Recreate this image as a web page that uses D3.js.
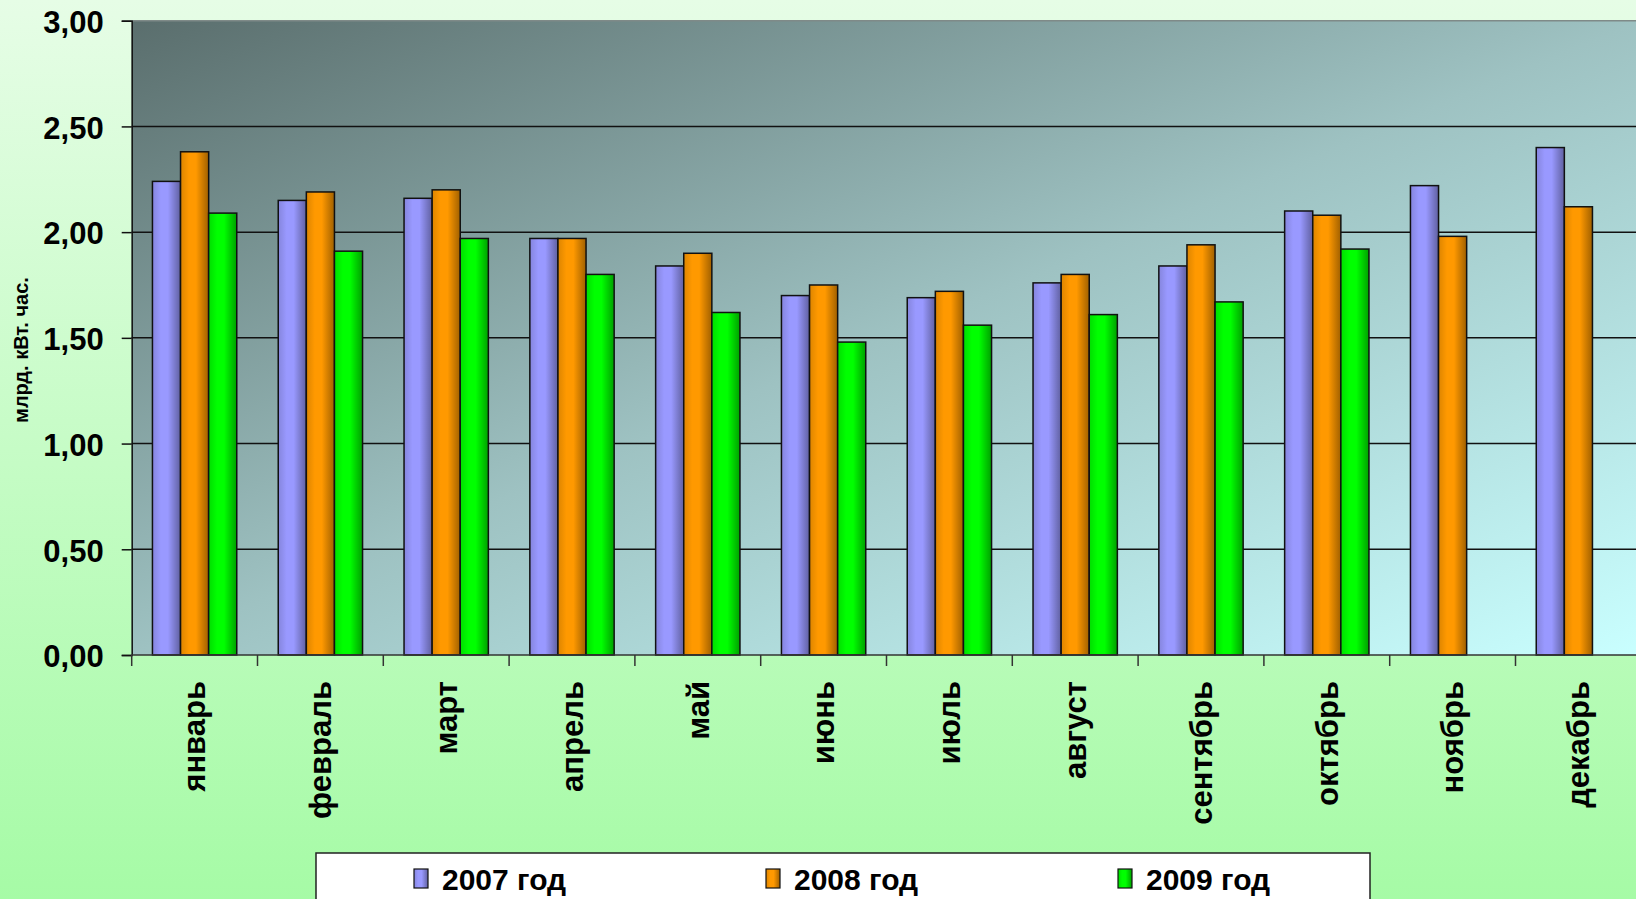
<!DOCTYPE html>
<html>
<head>
<meta charset="utf-8">
<script src="https://cdn.jsdelivr.net/npm/d3@7"></script>
<style>
  body { margin: 0; overflow: hidden; }
  svg { display: block; font-family: "Liberation Sans", Arial, sans-serif; }
</style>
</head>
<body>
<svg id="chart"></svg>
<script>
const months = ["январь", "февраль", "март", "апрель", "май", "июнь", "июль", "август", "сентябрь", "октябрь", "ноябрь", "декабрь"];
const series = ["2007 год", "2008 год", "2009 год"];
const v2007 = [2.24, 2.15, 2.16, 1.97, 1.84, 1.70, 1.69, 1.76, 1.84, 2.10, 2.22, 2.40];
const v2008 = [2.38, 2.19, 2.20, 1.97, 1.90, 1.75, 1.72, 1.80, 1.94, 2.08, 1.98, 2.12];
const v2009 = [2.09, 1.91, 1.97, 1.80, 1.62, 1.48, 1.56, 1.61, 1.67, 1.92, null, null];
const yTicks = [0, 0.5, 1, 1.5, 2, 2.5, 3];
const yTitle = "млрд. кВт. час.";

const width = 1636;
const height = 899;
const plot = {left: 131.7, top: 20.7, right: 1641.3, bottom: 655};

const colors = ["#9999ff", "#ff9900", "#00ff00"];
const values = [v2007, v2008, v2009];

const svg = d3.select("#chart")
  .attr("width", width)
  .attr("height", height);

const defs = svg.append("defs");

// page background
const bg = defs.append("linearGradient").attr("id", "bg")
  .attr("x1", 0).attr("y1", 0).attr("x2", 0).attr("y2", 1);
bg.append("stop").attr("offset", 0).attr("stop-color", "#e6fde6");
bg.append("stop").attr("offset", 1).attr("stop-color", "#a6fba6");

// plot area background
const pg = defs.append("linearGradient").attr("id", "plotbg")
  .attr("x1", 0).attr("y1", 0).attr("x2", 1).attr("y2", 1);
pg.append("stop").attr("offset", 0).attr("stop-color", "#5a6e6d");
pg.append("stop").attr("offset", 0.5).attr("stop-color", "#9ec2c2");
pg.append("stop").attr("offset", 1).attr("stop-color", "#c9ffff");

// cylinder-like shading for bars
colors.forEach((c, i) => {
  const g = defs.append("linearGradient").attr("id", "bar" + i)
    .attr("x1", 0).attr("y1", 0).attr("x2", 1).attr("y2", 0);
  g.append("stop").attr("offset", 0).attr("stop-color", d3.color(c).darker(0.4));
  g.append("stop").attr("offset", 0.3).attr("stop-color", c);
  g.append("stop").attr("offset", 0.55).attr("stop-color", c);
  g.append("stop").attr("offset", 1).attr("stop-color", d3.color(c).darker(1.3));
});

svg.append("rect")
  .attr("width", width)
  .attr("height", height)
  .attr("fill", "url(#bg)");

const x0 = d3.scaleBand()
  .domain(months)
  .range([plot.left, plot.right]);

const x1 = d3.scaleBand()
  .domain(series)
  .range([0, x0.bandwidth()])
  .paddingOuter(0.738);

const y = d3.scaleLinear()
  .domain([0, 3])
  .range([plot.bottom, plot.top]);

svg.append("rect")
  .attr("x", plot.left)
  .attr("y", plot.top)
  .attr("width", plot.right - plot.left)
  .attr("height", plot.bottom - plot.top)
  .attr("fill", "url(#plotbg)");

svg.append("line")
  .attr("x1", plot.left).attr("x2", plot.right)
  .attr("y1", y(3)).attr("y2", y(3))
  .attr("stroke", "#7f8a88").attr("stroke-width", 1.5);

// grid lines
svg.append("g")
  .selectAll("line")
  .data(yTicks.filter(d => d > 0 && d < 3))
  .join("line")
  .attr("x1", plot.left).attr("x2", plot.right)
  .attr("y1", d => y(d)).attr("y2", d => y(d))
  .attr("stroke", "#111").attr("stroke-width", 1.5);

// bars
const groups = svg.append("g")
  .selectAll("g")
  .data(months)
  .join("g")
  .attr("transform", d => `translate(${x0(d)},0)`);

groups.selectAll("rect")
  .data((m, mi) => series.map((s, si) => ({s, si, v: values[si][mi]})).filter(d => d.v != null))
  .join("rect")
  .attr("x", d => x1(d.s))
  .attr("y", d => y(d.v))
  .attr("width", x1.bandwidth())
  .attr("height", d => y(0) - y(d.v))
  .attr("fill", d => `url(#bar${d.si})`)
  .attr("stroke", "#111")
  .attr("stroke-width", 1.5);

// y axis
const fmt = d => d3.format(".2f")(d).replace(".", ",");
const yAxis = svg.append("g")
  .attr("transform", `translate(${plot.left},0)`)
  .call(d3.axisLeft(y).tickValues(yTicks).tickFormat(fmt).tickSize(10).tickPadding(18));
yAxis.select(".domain").attr("stroke", "#111").attr("stroke-width", 1.5);
yAxis.selectAll(".tick line").attr("stroke", "#111").attr("stroke-width", 1.5);
yAxis.selectAll("text")
  .attr("font-size", 31)
  .attr("font-weight", "bold")
  .attr("font-family", "'Liberation Sans', Arial, sans-serif")
  .attr("fill", "#000")
  .attr("dy", "0.38em");

// x axis
const xAxis = svg.append("g")
  .attr("transform", `translate(0,${plot.bottom})`);
xAxis.append("line")
  .attr("x1", plot.left).attr("x2", plot.right)
  .attr("stroke", "#333").attr("stroke-width", 1.5);
xAxis.selectAll(".tk")
  .data(months)
  .join("line")
  .attr("class", "tk")
  .attr("x1", d => x0(d)).attr("x2", d => x0(d))
  .attr("y1", 0).attr("y2", 11)
  .attr("stroke", "#333").attr("stroke-width", 1.5);
xAxis.selectAll("text")
  .data(months)
  .join("text")
  .attr("transform", d => `translate(${x0(d) + x0.bandwidth() / 2},26) rotate(-90)`)
  .attr("dy", "0.35em")
  .attr("text-anchor", "end")
  .attr("font-size", 31)
  .attr("font-weight", "bold")
  .attr("fill", "#000")
  .text(d => d);

// y title
svg.append("text")
  .attr("transform", "translate(21,350) rotate(-90)")
  .attr("dy", "0.35em")
  .attr("text-anchor", "middle")
  .attr("font-size", 20)
  .attr("font-weight", "bold")
  .attr("fill", "#000")
  .text(yTitle);

// legend (box runs past the bottom edge, as in the original)
const legend = svg.append("g");
legend.append("rect")
  .attr("x", 316).attr("y", 853)
  .attr("width", 1054).attr("height", 80)
  .attr("fill", "#fff")
  .attr("stroke", "#222").attr("stroke-width", 1.5);

const items = legend.selectAll("g")
  .data(series)
  .join("g")
  .attr("transform", (d, i) => `translate(${414 + i * 352},0)`);
items.append("rect")
  .attr("x", 0).attr("y", 869)
  .attr("width", 14).attr("height", 19)
  .attr("fill", (d, i) => `url(#bar${i})`)
  .attr("stroke", "#111").attr("stroke-width", 1.2);
items.append("text")
  .attr("x", 28).attr("y", 890)
  .attr("font-size", 30)
  .attr("font-weight", "bold")
  .attr("fill", "#000")
  .text(d => d);
</script>
</body>
</html>
